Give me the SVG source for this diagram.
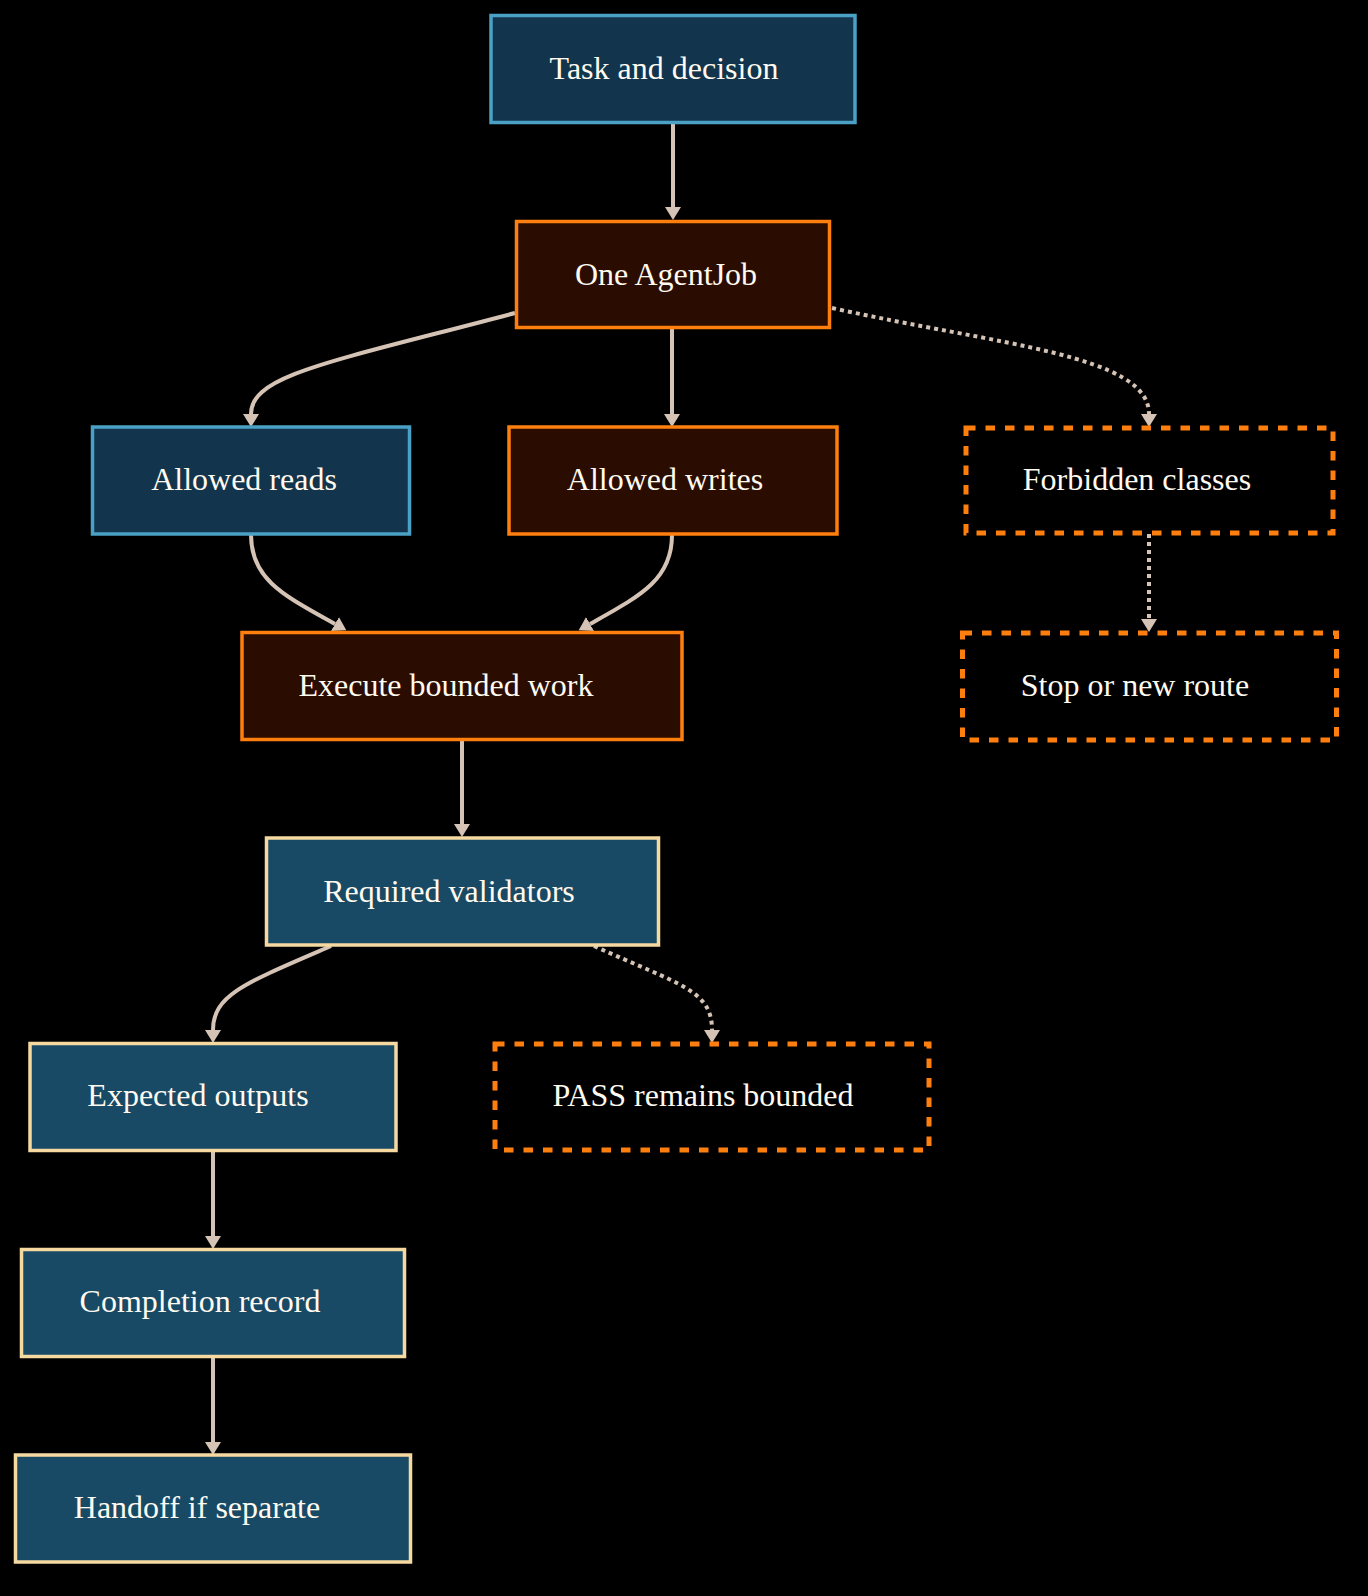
<svg xmlns="http://www.w3.org/2000/svg" width="1368" height="1596" viewBox="0 0 1368 1596">
<style>
.blue rect{fill:#12354d;stroke:#4aa0c5;stroke-width:3.5}
.orange rect{fill:#2a0d00;stroke:#ff7f0e;stroke-width:3.5}
.wheat rect{fill:#184a66;stroke:#f5d9a0;stroke-width:3.5}
.dash rect{fill:#000;stroke:#ff7f0e;stroke-width:5;stroke-dasharray:9.5 10}
text{font-family:"Liberation Serif","Times New Roman",serif;font-size:32px;fill:#fffaf0;text-anchor:middle}
.e{fill:none;stroke:#d5c4b6;stroke-width:4}
.d{stroke-dasharray:4 4}
</style>
<defs>
<marker id="ah" markerUnits="userSpaceOnUse" markerWidth="16" markerHeight="18" refX="0" refY="8" orient="auto">
<path d="M0,0 L13,8 L0,16 z" fill="#d5c4b6"/>
</marker>
</defs>
<rect x="0" y="0" width="1368" height="1596" fill="#000"/>
<g id="connectors">
<path class="e" d="M673,124 L673,207" marker-end="url(#ah)"/>
<path class="e" d="M515,313 C330,362 251,375 251,414" marker-end="url(#ah)"/>
<path class="e" d="M672,329 L672,414" marker-end="url(#ah)"/>
<path class="e d" d="M832,308 C1000,345 1149,355 1149,414" marker-end="url(#ah)"/>
<path class="e" d="M251,535 C251,580 285,596 335,624" marker-end="url(#ah)"/>
<path class="e" d="M672,535 C672,580 640,596 590,624" marker-end="url(#ah)"/>
<path class="e d" d="M1149,534 L1149,619" marker-end="url(#ah)"/>
<path class="e" d="M462,741 L462,824" marker-end="url(#ah)"/>
<path class="e" d="M331,946 C245,983 213,995 213,1030" marker-end="url(#ah)"/>
<path class="e d" d="M594,946 C680,985 712,990 712,1030" marker-end="url(#ah)"/>
<path class="e" d="M213,1152 L213,1236" marker-end="url(#ah)"/>
<path class="e" d="M213,1358 L213,1442" marker-end="url(#ah)"/>
</g>
<g id="task" class="blue"><rect x="491" y="15.5" width="364" height="107"/><text x="664" y="79">Task and decision</text></g>
<g id="agentjob" class="orange"><rect x="516.5" y="221.5" width="313" height="106"/><text x="666" y="285">One AgentJob</text></g>
<g id="reads" class="blue"><rect x="92.5" y="427" width="317" height="107"/><text x="244" y="490">Allowed reads</text></g>
<g id="writes" class="orange"><rect x="509" y="427" width="328" height="107"/><text x="665" y="490">Allowed writes</text></g>
<g id="forbidden" class="dash"><rect x="966" y="428" width="367" height="105"/><text x="1137" y="490">Forbidden classes</text></g>
<g id="stop" class="dash"><rect x="962.5" y="633" width="374" height="107"/><text x="1135" y="696">Stop or new route</text></g>
<g id="execute" class="orange"><rect x="242" y="632.5" width="440" height="107"/><text x="446" y="696">Execute bounded work</text></g>
<g id="validators" class="wheat"><rect x="266.5" y="838" width="392" height="107"/><text x="449" y="902">Required validators</text></g>
<g id="expected" class="wheat"><rect x="30" y="1043.5" width="366" height="107"/><text x="198" y="1106">Expected outputs</text></g>
<g id="pass" class="dash"><rect x="495" y="1044" width="434" height="106"/><text x="703" y="1106">PASS remains bounded</text></g>
<g id="completion" class="wheat"><rect x="21.5" y="1249.5" width="383" height="107"/><text x="200" y="1312">Completion record</text></g>
<g id="handoff" class="wheat"><rect x="15.5" y="1455" width="395" height="107"/><text x="197" y="1518">Handoff if separate</text></g>
</svg>
